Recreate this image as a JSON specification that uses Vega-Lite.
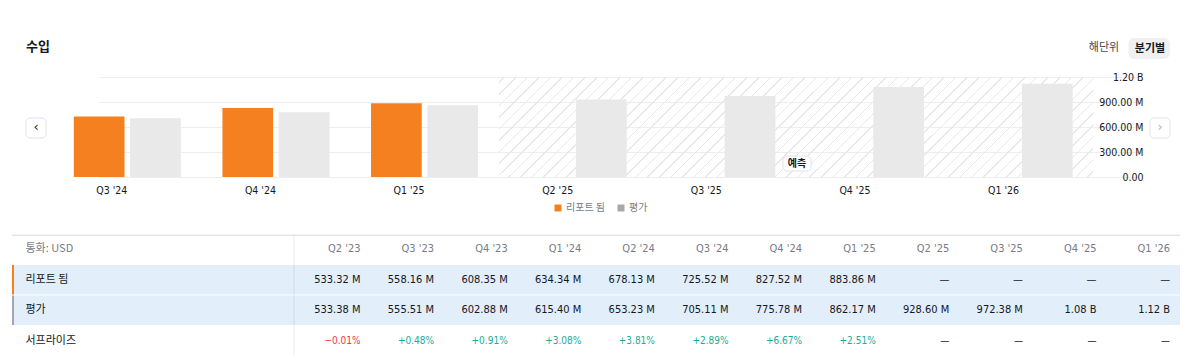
{
  "$schema": "https://vega.github.io/schema/vega-lite/v6.json",
  "background": "#ffffff",
  "padding": {"left": 12, "top": 38, "right": 0, "bottom": 0},
  "spacing": 38.5,
  "config": {"view": {"stroke": null}, "font": "Noto Sans CJK KR"},
  "datasets": {
    "rev": [
      {"q": "Q2 '23", "리포트 됨": 533.32, "평가": 533.38, "서프라이즈": -0.01},
      {"q": "Q3 '23", "리포트 됨": 558.16, "평가": 555.51, "서프라이즈": 0.48},
      {"q": "Q4 '23", "리포트 됨": 608.35, "평가": 602.88, "서프라이즈": 0.91},
      {"q": "Q1 '24", "리포트 됨": 634.34, "평가": 615.40, "서프라이즈": 3.08},
      {"q": "Q2 '24", "리포트 됨": 678.13, "평가": 653.23, "서프라이즈": 3.81},
      {"q": "Q3 '24", "리포트 됨": 725.52, "평가": 705.11, "서프라이즈": 2.89},
      {"q": "Q4 '24", "리포트 됨": 827.52, "평가": 775.78, "서프라이즈": 6.67},
      {"q": "Q1 '25", "리포트 됨": 883.86, "평가": 862.17, "서프라이즈": 2.51},
      {"q": "Q2 '25", "리포트 됨": null, "평가": 928.60, "서프라이즈": null},
      {"q": "Q3 '25", "리포트 됨": null, "평가": 972.38, "서프라이즈": null},
      {"q": "Q4 '25", "리포트 됨": null, "평가": 1080, "서프라이즈": null},
      {"q": "Q1 '26", "리포트 됨": null, "평가": 1120, "서프라이즈": null}
    ]
  },
  "vconcat": [
    {
      "width": 1168,
      "height": 100,
      "data": {"values": [{}]},
      "layer": [
        {
          "mark": {
            "type": "rect",
            "fill": {
              "gradient": "linear", "x1": 0, "y1": 0, "x2": 1.136, "y2": 0.1912,
              "stops": [
                {"offset":0.0072,"color":"#fff0"},{"offset":0.0072,"color":"#e8e8e8"},{"offset":0.0094,"color":"#e8e8e8"},{"offset":0.0094,"color":"#fff0"},
                {"offset":0.0239,"color":"#fff0"},{"offset":0.0239,"color":"#e8e8e8"},{"offset":0.0261,"color":"#e8e8e8"},{"offset":0.0261,"color":"#fff0"},
                {"offset":0.0406,"color":"#fff0"},{"offset":0.0406,"color":"#e8e8e8"},{"offset":0.0428,"color":"#e8e8e8"},{"offset":0.0428,"color":"#fff0"},
                {"offset":0.0572,"color":"#fff0"},{"offset":0.0572,"color":"#e8e8e8"},{"offset":0.0594,"color":"#e8e8e8"},{"offset":0.0594,"color":"#fff0"},
                {"offset":0.0739,"color":"#fff0"},{"offset":0.0739,"color":"#e8e8e8"},{"offset":0.0761,"color":"#e8e8e8"},{"offset":0.0761,"color":"#fff0"},
                {"offset":0.0906,"color":"#fff0"},{"offset":0.0906,"color":"#e8e8e8"},{"offset":0.0928,"color":"#e8e8e8"},{"offset":0.0928,"color":"#fff0"},
                {"offset":0.1072,"color":"#fff0"},{"offset":0.1072,"color":"#e8e8e8"},{"offset":0.1094,"color":"#e8e8e8"},{"offset":0.1094,"color":"#fff0"},
                {"offset":0.1239,"color":"#fff0"},{"offset":0.1239,"color":"#e8e8e8"},{"offset":0.1261,"color":"#e8e8e8"},{"offset":0.1261,"color":"#fff0"},
                {"offset":0.1406,"color":"#fff0"},{"offset":0.1406,"color":"#e8e8e8"},{"offset":0.1428,"color":"#e8e8e8"},{"offset":0.1428,"color":"#fff0"},
                {"offset":0.1572,"color":"#fff0"},{"offset":0.1572,"color":"#e8e8e8"},{"offset":0.1594,"color":"#e8e8e8"},{"offset":0.1594,"color":"#fff0"},
                {"offset":0.1739,"color":"#fff0"},{"offset":0.1739,"color":"#e8e8e8"},{"offset":0.1761,"color":"#e8e8e8"},{"offset":0.1761,"color":"#fff0"},
                {"offset":0.1906,"color":"#fff0"},{"offset":0.1906,"color":"#e8e8e8"},{"offset":0.1928,"color":"#e8e8e8"},{"offset":0.1928,"color":"#fff0"},
                {"offset":0.2072,"color":"#fff0"},{"offset":0.2072,"color":"#e8e8e8"},{"offset":0.2094,"color":"#e8e8e8"},{"offset":0.2094,"color":"#fff0"},
                {"offset":0.2239,"color":"#fff0"},{"offset":0.2239,"color":"#e8e8e8"},{"offset":0.2261,"color":"#e8e8e8"},{"offset":0.2261,"color":"#fff0"},
                {"offset":0.2406,"color":"#fff0"},{"offset":0.2406,"color":"#e8e8e8"},{"offset":0.2428,"color":"#e8e8e8"},{"offset":0.2428,"color":"#fff0"},
                {"offset":0.2572,"color":"#fff0"},{"offset":0.2572,"color":"#e8e8e8"},{"offset":0.2594,"color":"#e8e8e8"},{"offset":0.2594,"color":"#fff0"},
                {"offset":0.2739,"color":"#fff0"},{"offset":0.2739,"color":"#e8e8e8"},{"offset":0.2761,"color":"#e8e8e8"},{"offset":0.2761,"color":"#fff0"},
                {"offset":0.2906,"color":"#fff0"},{"offset":0.2906,"color":"#e8e8e8"},{"offset":0.2928,"color":"#e8e8e8"},{"offset":0.2928,"color":"#fff0"},
                {"offset":0.3072,"color":"#fff0"},{"offset":0.3072,"color":"#e8e8e8"},{"offset":0.3094,"color":"#e8e8e8"},{"offset":0.3094,"color":"#fff0"},
                {"offset":0.3239,"color":"#fff0"},{"offset":0.3239,"color":"#e8e8e8"},{"offset":0.3261,"color":"#e8e8e8"},{"offset":0.3261,"color":"#fff0"},
                {"offset":0.3406,"color":"#fff0"},{"offset":0.3406,"color":"#e8e8e8"},{"offset":0.3428,"color":"#e8e8e8"},{"offset":0.3428,"color":"#fff0"},
                {"offset":0.3572,"color":"#fff0"},{"offset":0.3572,"color":"#e8e8e8"},{"offset":0.3594,"color":"#e8e8e8"},{"offset":0.3594,"color":"#fff0"},
                {"offset":0.3739,"color":"#fff0"},{"offset":0.3739,"color":"#e8e8e8"},{"offset":0.3761,"color":"#e8e8e8"},{"offset":0.3761,"color":"#fff0"},
                {"offset":0.3906,"color":"#fff0"},{"offset":0.3906,"color":"#e8e8e8"},{"offset":0.3928,"color":"#e8e8e8"},{"offset":0.3928,"color":"#fff0"},
                {"offset":0.4072,"color":"#fff0"},{"offset":0.4072,"color":"#e8e8e8"},{"offset":0.4094,"color":"#e8e8e8"},{"offset":0.4094,"color":"#fff0"},
                {"offset":0.4239,"color":"#fff0"},{"offset":0.4239,"color":"#e8e8e8"},{"offset":0.4261,"color":"#e8e8e8"},{"offset":0.4261,"color":"#fff0"},
                {"offset":0.4406,"color":"#fff0"},{"offset":0.4406,"color":"#e8e8e8"},{"offset":0.4428,"color":"#e8e8e8"},{"offset":0.4428,"color":"#fff0"},
                {"offset":0.4572,"color":"#fff0"},{"offset":0.4572,"color":"#e8e8e8"},{"offset":0.4594,"color":"#e8e8e8"},{"offset":0.4594,"color":"#fff0"},
                {"offset":0.4739,"color":"#fff0"},{"offset":0.4739,"color":"#e8e8e8"},{"offset":0.4761,"color":"#e8e8e8"},{"offset":0.4761,"color":"#fff0"},
                {"offset":0.4906,"color":"#fff0"},{"offset":0.4906,"color":"#e8e8e8"},{"offset":0.4928,"color":"#e8e8e8"},{"offset":0.4928,"color":"#fff0"},
                {"offset":0.5072,"color":"#fff0"},{"offset":0.5072,"color":"#e8e8e8"},{"offset":0.5094,"color":"#e8e8e8"},{"offset":0.5094,"color":"#fff0"},
                {"offset":0.5239,"color":"#fff0"},{"offset":0.5239,"color":"#e8e8e8"},{"offset":0.5261,"color":"#e8e8e8"},{"offset":0.5261,"color":"#fff0"},
                {"offset":0.5406,"color":"#fff0"},{"offset":0.5406,"color":"#e8e8e8"},{"offset":0.5428,"color":"#e8e8e8"},{"offset":0.5428,"color":"#fff0"},
                {"offset":0.5572,"color":"#fff0"},{"offset":0.5572,"color":"#e8e8e8"},{"offset":0.5594,"color":"#e8e8e8"},{"offset":0.5594,"color":"#fff0"},
                {"offset":0.5739,"color":"#fff0"},{"offset":0.5739,"color":"#e8e8e8"},{"offset":0.5761,"color":"#e8e8e8"},{"offset":0.5761,"color":"#fff0"},
                {"offset":0.5906,"color":"#fff0"},{"offset":0.5906,"color":"#e8e8e8"},{"offset":0.5928,"color":"#e8e8e8"},{"offset":0.5928,"color":"#fff0"},
                {"offset":0.6072,"color":"#fff0"},{"offset":0.6072,"color":"#e8e8e8"},{"offset":0.6094,"color":"#e8e8e8"},{"offset":0.6094,"color":"#fff0"},
                {"offset":0.6239,"color":"#fff0"},{"offset":0.6239,"color":"#e8e8e8"},{"offset":0.6261,"color":"#e8e8e8"},{"offset":0.6261,"color":"#fff0"},
                {"offset":0.6406,"color":"#fff0"},{"offset":0.6406,"color":"#e8e8e8"},{"offset":0.6428,"color":"#e8e8e8"},{"offset":0.6428,"color":"#fff0"},
                {"offset":0.6572,"color":"#fff0"},{"offset":0.6572,"color":"#e8e8e8"},{"offset":0.6594,"color":"#e8e8e8"},{"offset":0.6594,"color":"#fff0"},
                {"offset":0.6739,"color":"#fff0"},{"offset":0.6739,"color":"#e8e8e8"},{"offset":0.6761,"color":"#e8e8e8"},{"offset":0.6761,"color":"#fff0"},
                {"offset":0.6906,"color":"#fff0"},{"offset":0.6906,"color":"#e8e8e8"},{"offset":0.6928,"color":"#e8e8e8"},{"offset":0.6928,"color":"#fff0"},
                {"offset":0.7072,"color":"#fff0"},{"offset":0.7072,"color":"#e8e8e8"},{"offset":0.7094,"color":"#e8e8e8"},{"offset":0.7094,"color":"#fff0"},
                {"offset":0.7239,"color":"#fff0"},{"offset":0.7239,"color":"#e8e8e8"},{"offset":0.7261,"color":"#e8e8e8"},{"offset":0.7261,"color":"#fff0"},
                {"offset":0.7406,"color":"#fff0"},{"offset":0.7406,"color":"#e8e8e8"},{"offset":0.7428,"color":"#e8e8e8"},{"offset":0.7428,"color":"#fff0"},
                {"offset":0.7572,"color":"#fff0"},{"offset":0.7572,"color":"#e8e8e8"},{"offset":0.7594,"color":"#e8e8e8"},{"offset":0.7594,"color":"#fff0"},
                {"offset":0.7739,"color":"#fff0"},{"offset":0.7739,"color":"#e8e8e8"},{"offset":0.7761,"color":"#e8e8e8"},{"offset":0.7761,"color":"#fff0"},
                {"offset":0.7906,"color":"#fff0"},{"offset":0.7906,"color":"#e8e8e8"},{"offset":0.7928,"color":"#e8e8e8"},{"offset":0.7928,"color":"#fff0"},
                {"offset":0.8072,"color":"#fff0"},{"offset":0.8072,"color":"#e8e8e8"},{"offset":0.8094,"color":"#e8e8e8"},{"offset":0.8094,"color":"#fff0"},
                {"offset":0.8239,"color":"#fff0"},{"offset":0.8239,"color":"#e8e8e8"},{"offset":0.8261,"color":"#e8e8e8"},{"offset":0.8261,"color":"#fff0"},
                {"offset":0.8406,"color":"#fff0"},{"offset":0.8406,"color":"#e8e8e8"},{"offset":0.8428,"color":"#e8e8e8"},{"offset":0.8428,"color":"#fff0"},
                {"offset":0.8572,"color":"#fff0"},{"offset":0.8572,"color":"#e8e8e8"},{"offset":0.8594,"color":"#e8e8e8"},{"offset":0.8594,"color":"#fff0"},
                {"offset":0.8739,"color":"#fff0"},{"offset":0.8739,"color":"#e8e8e8"},{"offset":0.8761,"color":"#e8e8e8"},{"offset":0.8761,"color":"#fff0"},
                {"offset":0.8906,"color":"#fff0"},{"offset":0.8906,"color":"#e8e8e8"},{"offset":0.8928,"color":"#e8e8e8"},{"offset":0.8928,"color":"#fff0"},
                {"offset":0.9072,"color":"#fff0"},{"offset":0.9072,"color":"#e8e8e8"},{"offset":0.9094,"color":"#e8e8e8"},{"offset":0.9094,"color":"#fff0"},
                {"offset":0.9239,"color":"#fff0"},{"offset":0.9239,"color":"#e8e8e8"},{"offset":0.9261,"color":"#e8e8e8"},{"offset":0.9261,"color":"#fff0"},
                {"offset":0.9406,"color":"#fff0"},{"offset":0.9406,"color":"#e8e8e8"},{"offset":0.9428,"color":"#e8e8e8"},{"offset":0.9428,"color":"#fff0"},
                {"offset":0.9572,"color":"#fff0"},{"offset":0.9572,"color":"#e8e8e8"},{"offset":0.9594,"color":"#e8e8e8"},{"offset":0.9594,"color":"#fff0"},
                {"offset":0.9739,"color":"#fff0"},{"offset":0.9739,"color":"#e8e8e8"},{"offset":0.9761,"color":"#e8e8e8"},{"offset":0.9761,"color":"#fff0"},
                {"offset":0.9906,"color":"#fff0"},{"offset":0.9906,"color":"#e8e8e8"},{"offset":0.9928,"color":"#e8e8e8"},{"offset":0.9928,"color":"#fff0"}
              ]
            }
          },
          "encoding": {
            "x": {"datum": "Q2 '25", "bandPosition": 0},
            "x2": {"datum": "Q1 '26", "bandPosition": 1},
            "y": {"datum": 0},
            "y2": {"datum": 1200}
          }
        },
        {
          "data": {"name": "rev"},
          "transform": [
            {"filter": {"field": "q", "oneOf": ["Q3 '24", "Q4 '24", "Q1 '25", "Q2 '25", "Q3 '25", "Q4 '25", "Q1 '26"]}},
            {"fold": ["리포트 됨", "평가"], "as": ["series", "v"]},
            {"filter": "datum.v != null"}
          ],
          "mark": {"type": "bar", "fill": "#ffffff"},
          "encoding": {
            "x": {
              "field": "q", "type": "nominal",
              "scale": {"domain": ["Q3 '24", "Q4 '24", "Q1 '25", "Q2 '25", "Q3 '25", "Q4 '25", "Q1 '26"], "range": [41, 1081.4], "paddingInner": 0, "paddingOuter": 0, "round": false},
              "axis": {"title": null, "orient": "bottom", "domain": false, "ticks": false, "tickSize": 0, "grid": false, "labelAngle": 0, "labelPadding": 13, "labelBaseline": "middle", "labelFont": "DejaVu Sans Condensed, Roboto, sans-serif", "labelFontSize": 10.5, "labelColor": "#131722"}
            },
            "xOffset": {
              "field": "series", "type": "nominal",
              "scale": {"domain": ["리포트 됨", "평가"], "paddingInner": 0.1, "paddingOuter": 0.369, "round": false}
            },
            "y": {
              "field": "v", "type": "quantitative",
              "scale": {"domain": [0, 1200], "nice": false, "zero": true},
              "axis": {"title": null, "orient": "right", "values": [0, 300, 600, 900, 1200], "tickCount": 10, "labelOverlap": false, "labelExpr": "datum.value >= 1000 ? format(datum.value / 1000, '.2f') + ' B' : datum.value > 0 ? format(datum.value, '.2f') + ' M' : '0.00'", "grid": true, "gridColor": "#eeeeee", "gridWidth": 1, "domain": false, "ticks": false, "tickSize": 0, "labelAlign": "right", "labelPadding": -37, "labelFont": "DejaVu Sans Condensed, Roboto, sans-serif", "labelFontSize": 10.5, "labelColor": "#131722"}
            }
          }
        },
        {
          "data": {"name": "rev"},
          "transform": [
            {"filter": {"field": "q", "oneOf": ["Q3 '24", "Q4 '24", "Q1 '25", "Q2 '25", "Q3 '25", "Q4 '25", "Q1 '26"]}},
            {"fold": ["리포트 됨", "평가"], "as": ["series", "v"]},
            {"filter": "datum.v != null"}
          ],
          "mark": {"type": "bar"},
          "encoding": {
            "x": {"field": "q", "type": "nominal"},
            "xOffset": {"field": "series", "type": "nominal"},
            "y": {"field": "v", "type": "quantitative"},
            "color": {
              "field": "series", "type": "nominal",
              "scale": {"domain": ["리포트 됨", "평가"], "range": ["#f5801f", "#a9a9a9"]},
              "legend": {"title": null, "orient": "none", "legendX": 541, "legendY": 126, "direction": "horizontal", "symbolType": "square", "symbolSize": 49, "symbolStrokeWidth": 0, "symbolOpacity": 1, "labelFont": "Noto Sans CJK KR", "labelFontSize": 10, "labelColor": "#787b86", "labelOffset": 3, "columnSpacing": 10, "padding": 0}
            },
            "opacity": {"condition": {"test": "datum.series === '평가'", "value": 0.25}, "value": 1}
          }
        },
        {
          "mark": {"type": "rect", "fill": "#ffffff", "stroke": "#e0e3eb", "strokeWidth": 1, "cornerRadius": 4},
          "encoding": {
            "x": {"datum": "Q3 '25", "bandPosition": 0.9115},
            "x2": {"datum": "Q3 '25", "bandPosition": 1.1},
            "y": {"datum": 72},
            "y2": {"datum": 252}
          }
        },
        {
          "mark": {"type": "text", "text": "예측", "fontSize": 10, "fontWeight": "bold", "color": "#131722", "align": "center", "baseline": "middle"},
          "encoding": {"x": {"datum": "Q3 '25", "bandPosition": 1.0057}, "y": {"datum": 162}}
        },
        {
          "mark": {"type": "text", "text": "수입", "fontSize": 13, "fontWeight": "bold", "color": "#131722", "align": "left", "baseline": "middle"},
          "encoding": {"x": {"datum": "Q3 '24", "bandPosition": -0.1817}, "y": {"datum": 1560}}
        },
        {
          "mark": {"type": "text", "text": "해단위", "fontSize": 11, "color": "#434651", "align": "center", "baseline": "middle"},
          "encoding": {"x": {"datum": "Q1 '26", "bandPosition": 1.0713}, "y": {"datum": 1548}}
        },
        {
          "mark": {"type": "rect", "fill": "#f0f0f0", "cornerRadius": 6},
          "encoding": {
            "x": {"datum": "Q1 '26", "bandPosition": 1.2353},
            "x2": {"datum": "Q1 '26", "bandPosition": 1.5154},
            "y": {"datum": 1416},
            "y2": {"datum": 1668}
          }
        },
        {
          "mark": {"type": "text", "text": "분기별", "fontSize": 11, "fontWeight": "bold", "color": "#131722", "align": "center", "baseline": "middle"},
          "encoding": {"x": {"datum": "Q1 '26", "bandPosition": 1.3808}, "y": {"datum": 1542}}
        },
        {
          "mark": {"type": "rect", "fill": "#ffffff", "stroke": "#e0e3eb", "strokeWidth": 1, "cornerRadius": 4},
          "encoding": {
            "x": {"datum": "Q3 '24", "bandPosition": -0.1817},
            "x2": {"datum": "Q3 '24", "bandPosition": -0.0471},
            "y": {"datum": 468},
            "y2": {"datum": 708}
          }
        },
        {
          "mark": {"type": "text", "text": "‹", "font": "DejaVu Sans", "fontSize": 13, "color": "#131722", "align": "center", "baseline": "middle"},
          "encoding": {"x": {"datum": "Q3 '24", "bandPosition": -0.1144}, "y": {"datum": 596}}
        },
        {
          "mark": {"type": "rect", "fill": "#ffffff", "stroke": "#e0e3eb", "strokeWidth": 1, "cornerRadius": 4},
          "encoding": {
            "x": {"datum": "Q1 '26", "bandPosition": 1.3808},
            "x2": {"datum": "Q1 '26", "bandPosition": 1.5154},
            "y": {"datum": 468},
            "y2": {"datum": 708}
          }
        },
        {
          "mark": {"type": "text", "text": "›", "font": "DejaVu Sans", "fontSize": 13, "color": "#b2b5be", "align": "center", "baseline": "middle"},
          "encoding": {"x": {"datum": "Q1 '26", "bandPosition": 1.4481}, "y": {"datum": 596}}
        }
      ]
    },
    {
      "width": 1168,
      "height": 121,
      "data": {"name": "rev"},
      "layer": [
        {
          "data": {"values": [{"row": "통화: USD"}]},
          "mark": {"type": "rect", "fill": {"gradient": "linear", "x1": 0, "y1": 0, "x2": 0, "y2": 1, "stops": [{"offset": 0, "color": "#e6e6e6"}, {"offset": 0.035, "color": "#e6e6e6"}, {"offset": 0.035, "color": "#ffffff"}, {"offset": 1, "color": "#ffffff"}]}},
          "encoding": {
            "y": {
              "field": "row", "type": "nominal",
              "scale": {"domain": ["통화: USD", "리포트 됨", "평가", "서프라이즈"], "paddingInner": 0.03, "paddingOuter": 0, "round": false},
              "axis": {"title": null, "orient": "left", "domain": false, "ticks": false, "tickSize": 0, "grid": false, "labelAlign": "left", "labelBaseline": "middle", "labelPadding": -13, "labelFont": "Noto Sans CJK KR", "labelFontSize": 11, "labelColor": {"condition": {"test": "datum.value === '통화: USD'", "value": "#787b86"}, "value": "#131722"}, "zindex": 1}
            }
          }
        },
        {
          "data": {"values": [{"row": "리포트 됨"}]},
          "mark": {"type": "rect", "fill": {"gradient": "linear", "x1": 0, "y1": 0, "x2": 1, "y2": 0, "stops": [{"offset": 0, "color": "#f5801f"}, {"offset": 0.0021, "color": "#f5801f"}, {"offset": 0.0021, "color": "#e3eefb"}, {"offset": 1, "color": "#e3eefb"}]}},
          "encoding": {"y": {"field": "row", "type": "nominal"}}
        },
        {
          "data": {"values": [{"row": "평가"}]},
          "mark": {"type": "rect", "fill": {"gradient": "linear", "x1": 0, "y1": 0, "x2": 1, "y2": 0, "stops": [{"offset": 0, "color": "#a3a6af"}, {"offset": 0.0021, "color": "#a3a6af"}, {"offset": 0.0021, "color": "#e3eefb"}, {"offset": 1, "color": "#e3eefb"}]}},
          "encoding": {"y": {"field": "row", "type": "nominal"}}
        },
        {
          "data": {"values": [{}]},
          "mark": {"type": "rect", "fill": {"gradient": "linear", "x1": 0, "y1": 0, "x2": 1, "y2": 0, "stops": [{"offset": 0, "color": "#fff0"}, {"offset": 0.241, "color": "#fff0"}, {"offset": 0.241, "color": "#0000000a"}, {"offset": 0.2419, "color": "#0000000a"}, {"offset": 0.2419, "color": "#fff0"}, {"offset": 1, "color": "#fff0"}]}},
          "encoding": {}
        },
        {
          "mark": {"type": "text", "align": "right", "baseline": "middle", "font": "DejaVu Sans Condensed, Roboto, sans-serif", "fontSize": 11, "color": "#787b86"},
          "encoding": {
            "x": {
              "field": "q", "type": "nominal",
              "scale": {"domain": ["Q2 '23", "Q3 '23", "Q4 '23", "Q1 '24", "Q2 '24", "Q3 '24", "Q4 '24", "Q1 '25", "Q2 '25", "Q3 '25", "Q4 '25", "Q1 '26"], "range": [311.7, 1194.9], "paddingInner": 0, "paddingOuter": 0, "round": false},
              "axis": null
            },
            "y": {"datum": "통화: USD"},
            "text": {"field": "q"}
          }
        },
        {
          "transform": [
            {"fold": ["리포트 됨", "평가", "서프라이즈"], "as": ["row", "v"]},
            {"calculate": "datum.v == null ? '—' : datum.row === '서프라이즈' ? (datum.v > 0 ? '+' : '') + format(datum.v, '.2f') + '%' : datum.v >= 1000 ? format(datum.v / 1000, '.2f') + ' B' : format(datum.v, '.2f') + ' M'", "as": "label"}
          ],
          "mark": {"type": "text", "align": "right", "baseline": "middle", "font": "DejaVu Sans Condensed, Roboto, sans-serif"},
          "encoding": {
            "x": {"field": "q", "type": "nominal"},
            "y": {"field": "row", "type": "nominal"},
            "text": {"field": "label"},
            "color": {"condition": [{"test": "datum.row === '서프라이즈' && datum.v < 0", "value": "#f23645"}, {"test": "datum.row === '서프라이즈' && datum.v > 0", "value": "#22ab94"}], "value": "#131722"},
            "size": {"condition": {"test": "datum.row === '서프라이즈'", "value": 10}, "value": 11}
          }
        }
      ]
    }
  ]
}
